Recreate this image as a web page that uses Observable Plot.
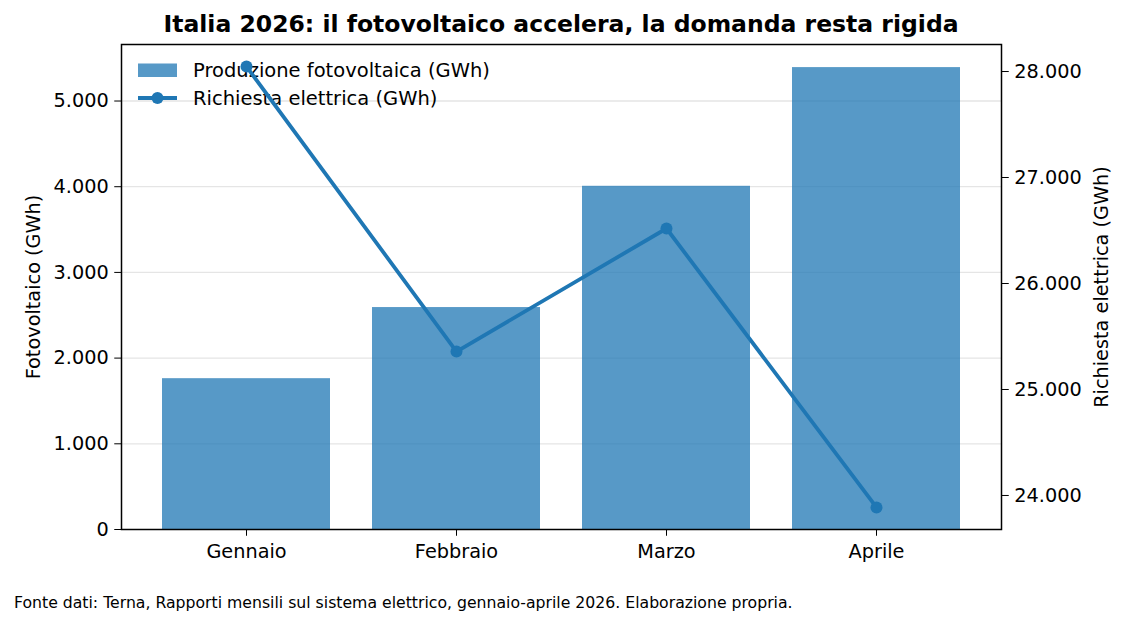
<!DOCTYPE html>
<html lang="it">
<head>
<meta charset="utf-8">
<script src="https://cdn.jsdelivr.net/npm/d3@7"></script>
<script src="https://cdn.jsdelivr.net/npm/@observablehq/plot@0.6"></script>
<style>
  body { margin: 0; background: #fff; }
  #chart { position: relative; width: 1125px; height: 625px; font-family: "DejaVu Sans", sans-serif; color: #000; }
  #chart > * { position: absolute; }
  #title { left: 121px; width: 880px; top: 10px; line-height: 28px; text-align: center; font-weight: bold; font-size: 23.5px; }
  #caption { left: 14px; top: 594px; line-height: 18px; font-size: 15.7px; white-space: nowrap; }
  #legend { left: 138px; top: 56px; font-size: 19.5px; }
  #legend .row { display: flex; align-items: center; height: 28px; }
  #legend svg { width: 39px; height: 28px; margin-right: 16px; overflow: visible; }
  .layer { left: 0; top: 36px; }
</style>
</head>
<body>
<div id="chart">
  <div id="title">Italia 2026: il fotovoltaico accelera, la domanda resta rigida</div>
  <div id="caption">Fonte dati: Terna, Rapporti mensili sul sistema elettrico, gennaio-aprile 2026. Elaborazione propria.</div>
</div>
<script>
// Monthly data, Italy 2026
const mesi = ["Gennaio", "Febbraio", "Marzo", "Aprile"];
const fotovoltaico = [1760, 2590, 4005, 5390];      // GWh
const richiesta = [28047, 25358, 26519, 23887];     // GWh
const tickFotovoltaico = [0, 1000, 2000, 3000, 4000, 5000];
const tickRichiesta = [24000, 25000, 26000, 27000, 28000];

const blu = "#1f77b4";
const font = "DejaVu Sans, sans-serif";
const it = d3.formatLocale({decimal: ",", thousands: ".", grouping: [3], currency: ["", " €"]});
const fmt = it.format(",");

const dati = mesi.map((m, i) => ({mese: m, fv: fotovoltaico[i], rich: richiesta[i]}));

// Axis limits with a 5% margin, as for an auto-scaled axis
const fvMax = d3.max(fotovoltaico) * 1.05;
const [rMin, rMax] = d3.extent(richiesta);
const rPad = (rMax - rMin) * 0.05;

const W = 1125, H = 540;
const common = {
  width: W, height: H,
  marginLeft: 121, marginRight: 124, marginTop: 8, marginBottom: 47,
  style: {fontFamily: font, fontSize: "19.3px", color: "#000", background: "transparent", overflow: "visible"},
  x: {type: "band", domain: mesi, paddingInner: 0.2, paddingOuter: 0.19, label: null}
};

// Layer 1: photovoltaic bars with left axis
const barre = Plot.plot({
  ...common,
  y: {domain: [0, fvMax], label: null},
  marks: [
    Plot.ruleY(tickFotovoltaico.slice(1), {stroke: "#e5e5e5", strokeWidth: 1.3}),
    Plot.barY(dati, {x: "mese", y: "fv", fill: blu, fillOpacity: 0.75}),
    Plot.frame({stroke: "#000", strokeWidth: 1.5}),
    Plot.axisY({ticks: tickFotovoltaico, tickFormat: fmt, tickSize: 6.75, tickPadding: 6, label: null, fontSize: 19.3}),
    Plot.axisX({tickSize: 6.75, tickPadding: 8, label: null, fontSize: 19.3}),
    Plot.text(["Fotovoltaico (GWh)"], {text: d => d, frameAnchor: "left", textAnchor: "middle", rotate: -90, dx: -88, fontSize: 19.3})
  ]
});

// Layer 2: electricity demand line with right axis
const linea = Plot.plot({
  ...common,
  x: {...common.x, axis: null},
  y: {domain: [rMin - rPad, rMax + rPad], label: null},
  marks: [
    Plot.line(dati, {x: "mese", y: "rich", stroke: blu, strokeWidth: 3.8, strokeLinejoin: "round"}),
    Plot.dot(dati, {x: "mese", y: "rich", r: 6, fill: blu}),
    Plot.axisY({anchor: "right", ticks: tickRichiesta, tickFormat: fmt, tickSize: 6.75, tickPadding: 6, label: null, fontSize: 19.3}),
    Plot.text(["Richiesta elettrica (GWh)"], {text: d => d, frameAnchor: "right", textAnchor: "middle", rotate: -90, dx: 100, fontSize: 19.3})
  ]
});

const chart = document.getElementById("chart");
barre.classList.add("layer");
linea.classList.add("layer");
chart.appendChild(barre);

// Legend (between the bar layer and the line layer)
const legend = document.createElement("div");
legend.id = "legend";
legend.innerHTML = `
  <div class="row"><svg viewBox="0 0 39 28"><rect x="0" y="7.5" width="39" height="13.5" fill="${blu}" fill-opacity="0.75"/></svg><span>Produzione fotovoltaica (GWh)</span></div>
  <div class="row"><svg viewBox="0 0 39 28"><line x1="0" x2="39" y1="14" y2="14" stroke="${blu}" stroke-width="3.8"/><circle cx="19.5" cy="14" r="6" fill="${blu}"/></svg><span>Richiesta elettrica (GWh)</span></div>`;
chart.appendChild(legend);
chart.appendChild(linea);
</script>
</body>
</html>
